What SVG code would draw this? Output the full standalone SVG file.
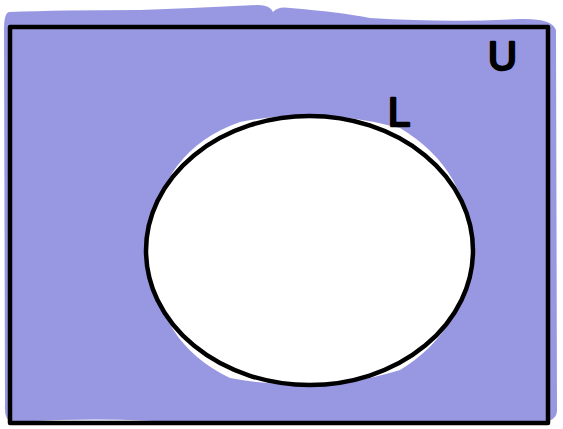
<svg xmlns="http://www.w3.org/2000/svg" width="563" height="429" viewBox="0 0 563 429">
<style>
.fill{fill:#9898e2;}
.line{fill:none;stroke:#000;stroke-width:4.5;stroke-linejoin:round;stroke-linecap:round;}
.lbl{font-family:"Liberation Sans",Arial,sans-serif;font-size:40px;fill:#000;stroke:#000;stroke-width:2.5;stroke-linejoin:round;}
</style>
<rect width="563" height="429" fill="#fff"/>
<g id="universe">
<path class="fill" d="M9,12 Q60,10 140,10 Q200,8 258,5 Q270,5 273,12 Q278,6 290,8 Q340,12 370,18 Q450,23 520,19 Q552,18 556,30 L557,410 Q557,422 540,422 L200,424 Q130,418 60,420 L12,422 Q4,420 5,405 L4,30 Q4,13 9,12 Z"/>
<rect class="line" x="10" y="27" width="538" height="396"/>
<text class="lbl" x="488" y="70">U</text>
</g>
<g id="setA">
<path fill="#fff" d="M150,240 Q160,150 240,122 Q320,106 400,128 Q470,170 470,250 Q466,330 400,370 Q320,395 230,378 Q150,340 150,240 Z"/>
<ellipse cx="309.5" cy="250.5" rx="163.5" ry="134.5" fill="#fff" stroke="#000" stroke-width="4.5"/>
<text class="lbl" x="388" y="126" font-size="32">L</text>
</g>
</svg>
